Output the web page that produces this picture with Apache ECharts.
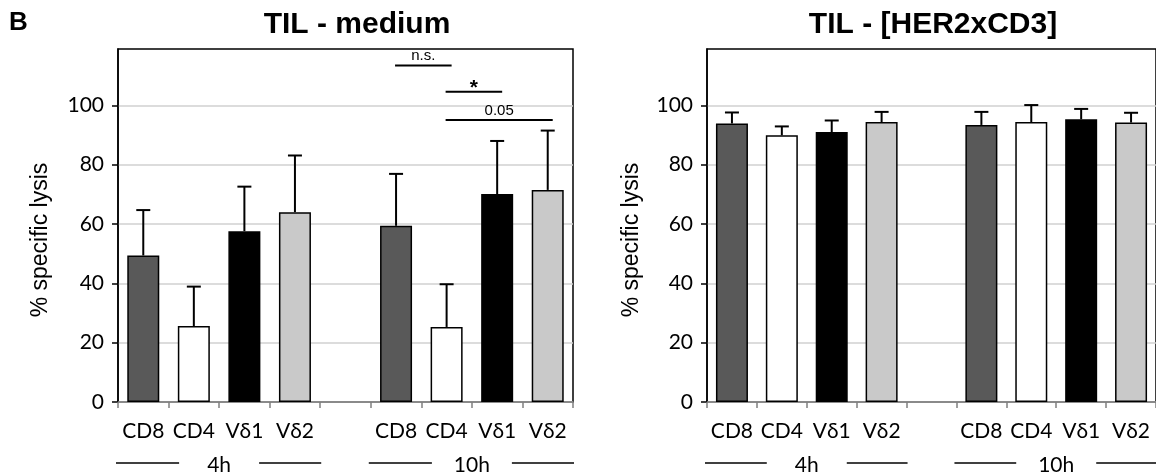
<!DOCTYPE html>
<html>
<head>
<meta charset="utf-8">
<script src="https://cdn.jsdelivr.net/npm/echarts@6/dist/echarts.min.js"></script>
<style>
html,body{margin:0;padding:0;background:#fff;}
#chart{width:1156px;height:475px;}
</style>
</head>
<body>
<div id="chart"></div>
<script>
// ---------- data ----------
const categories = ['CD8', 'CD4', 'Vδ1', 'Vδ2', '', 'CD8', 'CD4', 'Vδ1', 'Vδ2'];
const cellTypes = ['CD8', 'CD4', 'Vδ1', 'Vδ2'];
const groups = [{ name: '4h', from: 0, to: 3 }, { name: '10h', from: 5, to: 8 }];
const yTicks = [0, 20, 40, 60, 80, 100];

const medium4h = [49.4, 25.6, 57.6, 64.0];
const medium4hSD = [15.3, 13.3, 15.0, 19.1];
const medium10h = [59.4, 25.3, 70.1, 71.5];
const medium10hSD = [17.5, 14.4, 17.9, 20.0];

const her4h = [93.9, 89.9, 91.0, 94.4];
const her4hSD = [3.7, 3.0, 3.9, 3.4];
const her10h = [93.4, 94.4, 95.3, 94.2];
const her10hSD = [4.4, 5.7, 3.5, 3.3];

const sigBrackets = [
  { from: 5, to: 6, y: 113.4, label: 'n.s.' },
  { from: 6, to: 7, y: 104.6, label: '*' },
  { from: 6, to: 8, y: 95.1, label: '0.05' }
];

const panelTitles = ['TIL - medium', 'TIL - [HER2xCD3]'];
const yName = '% specific lysis';

// ---------- styles ----------
const typeColors = ['#595959', '#ffffff', '#000000', '#c9c9c9'];
const FONT_NUM = 'Lato, Carlito, "Liberation Sans", sans-serif';
const FONT_ARIAL = '"Liberation Sans", Arial, sans-serif';

function buildBars(v4, v10) {
  const arr = [];
  v4.forEach((v, i) => arr.push({ value: v, itemStyle: { color: typeColors[i] } }));
  arr.push('-');
  v10.forEach((v, i) => arr.push({ value: v, itemStyle: { color: typeColors[i] } }));
  return arr;
}
function buildErr(v4, s4, v10, s10) {
  const arr = [];
  v4.forEach((v, i) => arr.push([i, v, s4[i]]));
  v10.forEach((v, i) => arr.push([i + 5, v, s10[i]]));
  return arr;
}

const grids = [
  { left: 118, top: 49, width: 455, height: 353 },
  { left: 707, top: 49, width: 455, height: 353 }
];

const xAxes = [], yAxes = [], series = [];
const panels = [
  { v4: medium4h, s4: medium4hSD, v10: medium10h, s10: medium10hSD },
  { v4: her4h, s4: her4hSD, v10: her10h, s10: her10hSD }
];

panels.forEach((p, gi) => {
  xAxes.push({
    type: 'category', gridIndex: gi, data: categories,
    axisLine: { lineStyle: { color: '#808080', width: 1.5 } },
    axisTick: { show: true, length: 6, lineStyle: { color: '#808080', width: 1.5 } },
    axisLabel: { color: '#000', fontFamily: FONT_NUM, fontSize: 21, margin: 19, interval: 0 }
  });
  yAxes.push({
    type: 'value', gridIndex: gi, min: 0, max: 119, interval: 20,
    axisLine: { show: true, lineStyle: { color: '#000', width: 1.5 } },
    axisTick: { show: true, length: 6, customValues: yTicks, lineStyle: { color: '#000', width: 1.5 } },
    axisLabel: {
      color: '#000', fontFamily: FONT_NUM, fontSize: 21, margin: 14, customValues: yTicks,
      formatter: v => (yTicks.indexOf(v) >= 0 ? String(v) : '')
    },
    splitLine: { show: true, lineStyle: { color: '#d0d0d0', width: 1.5 } }
  });
  series.push({
    type: 'bar', xAxisIndex: gi, yAxisIndex: gi, barWidth: 32,
    data: buildBars(p.v4, p.v10),
    itemStyle: { borderColor: '#000', borderWidth: 1.5 },
    silent: true, animation: false
  });
  series.push({
    type: 'custom', xAxisIndex: gi, yAxisIndex: gi, animation: false, silent: true,
    data: buildErr(p.v4, p.s4, p.v10, p.s10),
    encode: { x: 0, y: 1 },
    renderItem: function (params, api) {
      const idx = api.value(0), m = api.value(1), sd = api.value(2);
      const p0 = api.coord([idx, m]);
      const p1 = api.coord([idx, m + sd]);
      const st = { stroke: '#000', lineWidth: 2 };
      return {
        type: 'group', children: [
          { type: 'line', shape: { x1: p0[0], y1: p0[1], x2: p1[0], y2: p1[1] }, style: st },
          { type: 'line', shape: { x1: p1[0] - 7, y1: p1[1], x2: p1[0] + 7, y2: p1[1] }, style: st }
        ]
      };
    }
  });
  // group labels (4h / 10h) under the axis
  series.push({
    type: 'custom', xAxisIndex: gi, yAxisIndex: gi, animation: false, silent: true, clip: false,
    data: groups.map(g => [g.from, g.to, 0]),
    encode: { x: 0, y: 2 },
    renderItem: function (params, api) {
      const g = groups[params.dataIndex];
      const a = api.coord([g.from, 0]);
      const b = api.coord([g.to, 0]);
      const band = api.size([1, 0])[0];
      const x0 = a[0] - band / 2 - 2, x1 = b[0] + band / 2 + 1;
      const mid = (a[0] + b[0]) / 2;
      const y = a[1] + 61;
      const st = { stroke: '#000', lineWidth: 1.5 };
      return {
        type: 'group', children: [
          { type: 'line', shape: { x1: x0, y1: y, x2: mid - 40, y2: y }, style: st },
          { type: 'line', shape: { x1: mid + 40, y1: y, x2: x1, y2: y }, style: st },
          { type: 'text', x: mid, y: y + 2, style: { text: g.name, fill: '#000', font: '21px ' + FONT_NUM, align: 'center', verticalAlign: 'middle' } }
        ]
      };
    }
  });
});

// significance brackets in first panel
series.push({
  type: 'custom', xAxisIndex: 0, yAxisIndex: 0, animation: false, silent: true, clip: false,
  data: sigBrackets.map(s => [s.from, s.to, s.y]),
  encode: { x: 0, y: 2 },
  renderItem: function (params, api) {
    const s = sigBrackets[params.dataIndex];
    const a = api.coord([s.from, s.y]);
    const b = api.coord([s.to, s.y]);
    const x0 = a[0] - 1, x1 = b[0] + 5;
    const isStar = s.label === '*';
    return {
      type: 'group', children: [
        { type: 'line', shape: { x1: x0, y1: a[1], x2: x1, y2: a[1] }, style: { stroke: '#000', lineWidth: 2 } },
        { type: 'text', x: (x0 + x1) / 2, y: a[1] + (isStar ? 7 : -2),
          style: { text: s.label, fill: '#000', font: (isStar ? 'bold 21px ' : '15px ') + FONT_ARIAL, align: 'center', verticalAlign: 'bottom' } }
      ]
    };
  }
});

const chart = echarts.init(document.getElementById('chart'), null, { renderer: 'canvas' });
chart.setOption({
  animation: false,
  backgroundColor: '#fff',
  grid: grids.map(g => Object.assign({ show: true, borderColor: '#000', borderWidth: 1.5, backgroundColor: 'transparent' }, g)),
  xAxis: xAxes,
  yAxis: yAxes,
  series: series,
  graphic: [
    { type: 'text', left: 9, top: 10, style: { text: 'B', fill: '#000', font: 'bold 26px ' + FONT_ARIAL } },
    { type: 'text', x: 357, y: 25, style: { text: panelTitles[0], fill: '#000', font: 'bold 30px ' + FONT_ARIAL, align: 'center', verticalAlign: 'middle' } },
    { type: 'text', x: 933, y: 25, style: { text: panelTitles[1], fill: '#000', font: 'bold 30px ' + FONT_ARIAL, align: 'center', verticalAlign: 'middle' } },
    { type: 'text', x: 41, y: 240, rotation: Math.PI / 2, style: { text: yName, fill: '#000', font: '23px ' + FONT_ARIAL, align: 'center', verticalAlign: 'middle' } },
    { type: 'text', x: 632, y: 240, rotation: Math.PI / 2, style: { text: yName, fill: '#000', font: '23px ' + FONT_ARIAL, align: 'center', verticalAlign: 'middle' } }
  ]
});
</script>
</body>
</html>
